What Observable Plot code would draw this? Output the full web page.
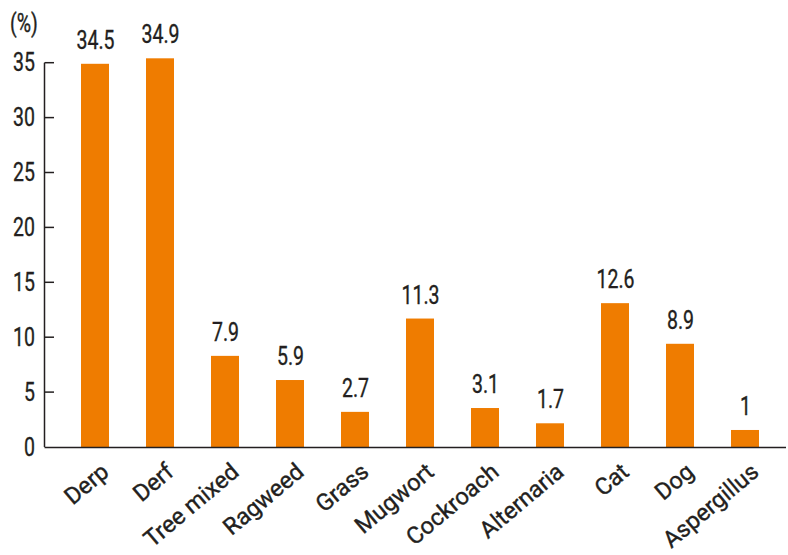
<!DOCTYPE html>
<html>
<head>
<meta charset="utf-8">
<script src="https://cdn.jsdelivr.net/npm/d3@7"></script>
<script src="https://cdn.jsdelivr.net/npm/@observablehq/plot@0.6"></script>
<style>
  html, body { margin: 0; padding: 0; background: #fff; }
  #chart svg { display: block; }
  #chart svg text { stroke: #231f20; stroke-width: 0.35px; }
</style>
</head>
<body>
<div id="chart"></div>
<script>
const allergens = ["Derp", "Derf", "Tree mixed", "Ragweed", "Grass", "Mugwort", "Cockroach", "Alternaria", "Cat", "Dog", "Aspergillus"];
// bar heights as drawn in the picture
const barHeights = [34.9, 35.4, 8.3, 6.1, 3.2, 11.7, 3.55, 2.16, 13.1, 9.4, 1.55];
// printed value labels
const valueLabels = ["34.5", "34.9", "7.9", "5.9", "2.7", "11.3", "3.1", "1.7", "12.6", "8.9", "1"];
const yTicks = [0, 5, 10, 15, 20, 25, 30, 35];

const data = allergens.map((name, i) => ({name, height: barHeights[i], label: valueLabels[i]}));

const FONT = "Roboto, 'Noto Sans', sans-serif";
const ORANGE = "#EF7C00";
const INK = "#231f20";
const NARROW = 0.78;

// left axis line with inward-pointing ticks
function leftAxis(index, scales, values, dimensions) {
  const g = d3.create("svg:g").attr("stroke", INK).attr("stroke-width", 1.5).attr("fill", "none");
  const x0 = dimensions.marginLeft;
  const top = scales.y(d3.max(yTicks));
  const bottom = scales.y(0);
  g.append("line").attr("x1", x0).attr("x2", x0).attr("y1", top).attr("y2", bottom);
  for (const t of yTicks) {
    if (t === 0) continue;
    g.append("line").attr("x1", x0).attr("x2", x0 + 9.5).attr("y1", scales.y(t)).attr("y2", scales.y(t));
  }
  return g.node();
}

const chart = Plot.plot({
  width: 788,
  height: 555,
  marginLeft: 44.5,
  marginRight: 2,
  marginTop: 62.7,
  marginBottom: 108,
  style: {fontFamily: FONT, background: "#fff", color: INK},
  x: {domain: allergens, paddingInner: 0.565, paddingOuter: 0.47, align: 0.58, label: null},
  y: {domain: [0, 35], label: null},
  marks: [
    Plot.barY(data, {x: "name", y: "height", fill: ORANGE}),
    Plot.ruleY([0], {stroke: INK, strokeWidth: 1.5}),
    leftAxis,
    Plot.axisY({
      ticks: yTicks,
      tickSize: 0,
      tickPadding: 10,
      fontSize: 25,
      label: null
    }),
    Plot.axisX({
      tickSize: 0,
      tickPadding: 21,
      tickRotate: -40,
      fontSize: 23.5,
      dx: 10,
      label: null
    }),
    Plot.text(data, {x: "name", y: "height", text: "label", lineAnchor: "bottom", dy: -15.5, fontSize: 25, fill: INK}),
    Plot.text(["(%)"], {frameAnchor: "top-left", textAnchor: "start", lineAnchor: "bottom", dx: -35, dy: -31, fontSize: 25, fill: INK})
  ]
});

// condense the numeric texts horizontally (the reference uses a condensed face)
d3.select(chart).selectAll("text").each(function() {
  const t = this.getAttribute("transform") || "";
  if (t.includes("rotate")) return; // rotated category labels keep normal width
  const x = this.getAttribute("x");
  if (t && x === null) {
    this.setAttribute("transform", `${t} scale(${NARROW},1)`);
  } else {
    const xv = +x || 0;
    this.setAttribute("transform", `${t} translate(${xv},0) scale(${NARROW},1) translate(${-xv},0)`.trim());
  }
});

document.getElementById("chart").appendChild(chart);
</script>
</body>
</html>
